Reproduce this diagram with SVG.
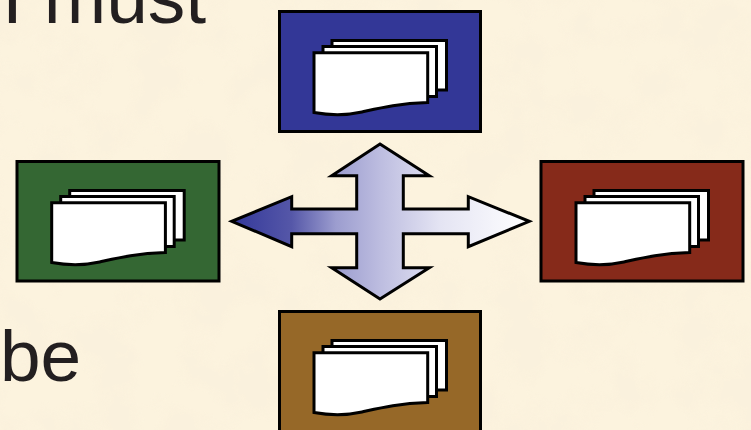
<svg xmlns="http://www.w3.org/2000/svg" width="751" height="430" viewBox="0 0 751 430">
<style>
.box{stroke:#000;stroke-width:3}
.sheet{fill:#fff;stroke:#000;stroke-width:3}
.txt{font-family:"Liberation Sans",Arial,sans-serif;font-size:75px;fill:#231f20}
</style>
<defs>
<linearGradient id="g" gradientUnits="userSpaceOnUse" x1="232" y1="0" x2="529" y2="0">
<stop offset="0" stop-color="#33389a"/>
<stop offset="0.2" stop-color="#5557a8"/>
<stop offset="0.35" stop-color="#9c9dcf"/>
<stop offset="0.5" stop-color="#bdbde0"/>
<stop offset="0.7" stop-color="#e4e4f3"/>
<stop offset="1" stop-color="#ffffff"/>
</linearGradient>
<filter id="tex" x="0" y="0" width="100%" height="100%">
<feTurbulence type="fractalNoise" baseFrequency="0.022" numOctaves="4" seed="4"/>
<feColorMatrix values="0 0 0 0 0.96  0 0 0 0 0.88  0 0 0 0 0.72  4 0 0 0 -1.6"/>
</filter>
<g id="stack">
<rect class="sheet" x="332" y="40.5" width="114.5" height="49.5"/>
<rect class="sheet" x="323" y="46.5" width="113.5" height="50"/>
<path class="sheet" d="M314 52.7H427.7V102.5C398 103.5 380 108 362 112C344 116 328 115 314 112.5Z"/>
</g>
</defs>
<rect width="751" height="430" fill="#fcf3de"/>
<rect width="751" height="430" filter="url(#tex)" opacity="0.8"/>
<text class="txt" x="2" y="23">I must</text>
<text class="txt" x="0" y="381" style="font-size:73px">be</text>
<g id="node-top"><rect class="box" x="279.5" y="11.5" width="201" height="120" fill="#333797"/><use href="#stack"/></g>
<g id="node-left"><rect class="box" x="17" y="161.5" width="202" height="119.5" fill="#346733"/><use href="#stack" x="-262.3" y="150"/></g>
<g id="node-right"><rect class="box" x="541" y="161.5" width="202" height="119.5" fill="#862a1a"/><use href="#stack" x="262" y="150"/></g>
<g id="node-bottom"><rect class="box" x="279.5" y="311.5" width="201" height="122" fill="#966828"/><use href="#stack" y="300"/></g>
<g id="connectors">
<path d="M380 144L429.3 175.7H403.3V209H468.3V196.7L529.3 221.3L468.3 246.7V233.7H403.3V267.7H429.3L380 299L331.7 267.7H356.7V233.7H291.7V246.7L231.7 221.3L291.7 196.7V209H356.7V175.7H331.7Z" fill="url(#g)" stroke="#000" stroke-width="3" stroke-linejoin="miter"/>
</g>
</svg>
